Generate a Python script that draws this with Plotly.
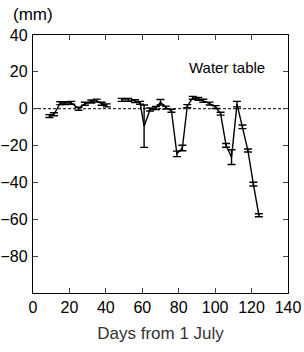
import plotly.graph_objects as go

days = [9, 11.5, 15, 17.5, 21, 25, 28.5, 32, 35, 37.7, 40.5, None,
        48.7, 52.3, 56, 58.8, 61, 64.3, 67.5, 70, 73, 76, 79, 82, 84.7,
        87.7, 90.8, 93.5, 97, 100.3, 103, 106, 109, 112, 115, 118, 121, 124]
level = [-4, -3, 3, 3, 3.2, 0, 2.7, 3.9, 4.4, 2.7, 1.8, None,
         4.8, 4.8, 4.1, 3.2, -9.5, -0.4, 0.4, 3.5, 0.6, -1.1, -24.5, -21.3, 1.4,
         5.9, 5.3, 4.3, 2.8, 0.9, -2.7, -19.9, -26.3, 2.5, -9.8, -22.7, -40.9, -57.8]
err = [0.8, 0.8, 0.8, 0.8, 0.8, 0.8, 0.8, 0.8, 0.8, 0.8, 0.8, None,
       0.8, 0.8, 0.8, 0.8, 11.5, 0.8, 0.8, 1.5, 0.8, 0.8, 1.5, 1.5, 0.8,
       0.8, 0.8, 0.8, 0.8, 0.8, 0.8, 1.0, 4.0, 1.5, 1.0, 0.8, 1.0, 0.8]

x_ticks = [0, 20, 40, 60, 80, 100, 120, 140]
y_ticks = [-80, -60, -40, -20, 0, 20, 40]
y_tick_text = ["\u221280", "\u221260", "\u221240", "\u221220", "0", "20", "40"]

FONT = "Arial, Liberation Sans, sans-serif"

fig = go.Figure()
fig.add_trace(go.Scatter(
    x=days, y=level, mode="lines",
    line=dict(color="black", width=1.4),
    connectgaps=False,
    error_y=dict(type="data", array=err, visible=True, color="black",
                 thickness=1.4, width=4),
    showlegend=False,
))

fig.add_shape(type="line", xref="x", yref="y", x0=0, x1=140, y0=0, y1=0,
              line=dict(color="black", width=1, dash="3px,2px"), layer="below")

fig.update_layout(
    width=304, height=352,
    margin=dict(l=33, r=16, t=35, b=59),
    plot_bgcolor="white", paper_bgcolor="white",
    font=dict(family=FONT, size=16, color="black"),
    xaxis=dict(range=[0, 140], tickvals=x_ticks, ticks="inside", ticklen=5,
               showline=True, linecolor="black", linewidth=1.3, mirror="ticks",
               showgrid=False, zeroline=False, automargin=False,
               title=dict(text="Days from 1 July", font=dict(size=17, color="#333"),
                          standoff=11)),
    yaxis=dict(range=[-100, 40], tickvals=y_ticks, ticktext=y_tick_text,
               ticks="inside", ticklen=5, ticklabelstandoff=1,
               showline=True, linecolor="black", linewidth=1.3, mirror="ticks",
               showgrid=False, zeroline=False, automargin=False),
    annotations=[
        dict(text="Water table", xref="paper", yref="paper", x=0.76, y=0.875,
             xanchor="center", yanchor="middle", showarrow=False,
             font=dict(size=15, color="black")),
        dict(text="(mm)", xref="paper", yref="paper", x=-0.085, y=1.078,
             xanchor="left", yanchor="middle", showarrow=False,
             font=dict(size=17, color="black")),
    ],
)

fig.write_html("out.html", config={"displayModeBar": False},
               post_script="document.body.style.margin='0px';")
